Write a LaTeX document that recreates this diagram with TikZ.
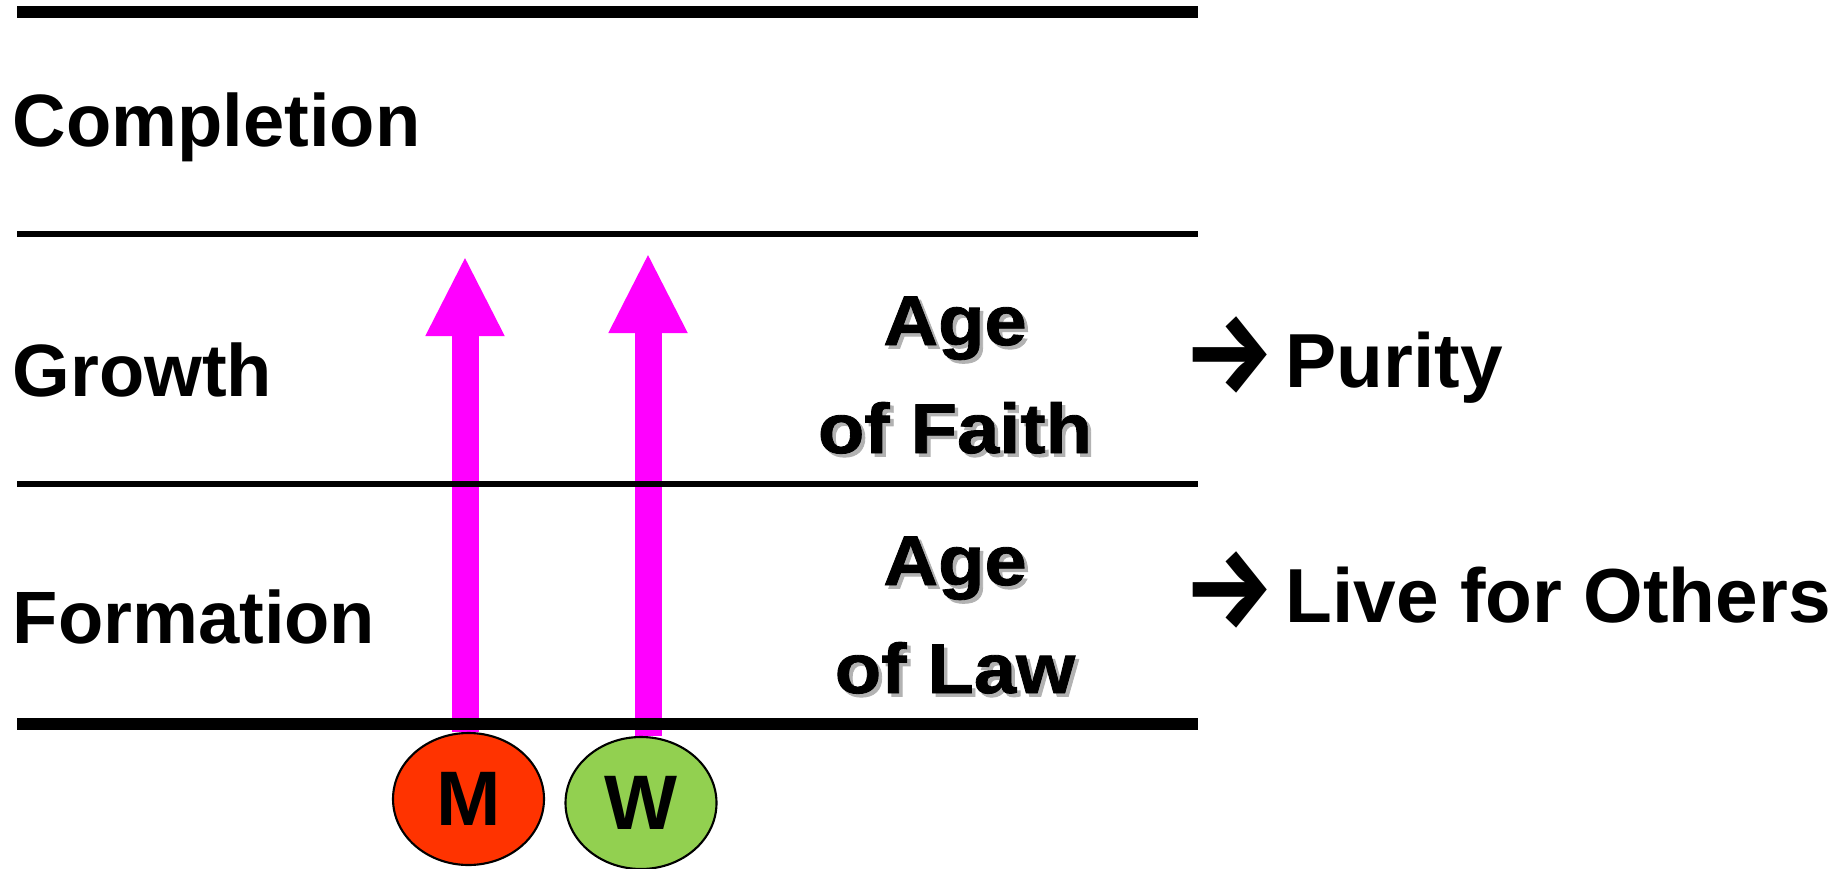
\documentclass[tikz,border=0pt]{standalone}
\usepackage{fontspec}
\setmainfont{Liberation Sans}
\newfontfamily\agefont[FakeStretch=1.08,FakeBold=1.2]{Liberation Sans}
\newfontfamily\arrowfont{Fira Sans}
\usetikzlibrary{arrows.meta,shapes.geometric,backgrounds}
\definecolor{mred}{HTML}{FF3300}
\definecolor{wgreen}{HTML}{92D050}
\definecolor{growpink}{HTML}{FF00FF}
\newcommand{\thenarrow}{\makebox[1.025cm][l]{\arrowfont\fontsize{29}{30}\selectfont\raisebox{-1.5pt}{\scalebox{1}[1.12]{→}}}}

\begin{document}
\begin{tikzpicture}[
    band/.style={line width=0.06cm},
    edge/.style={line width=0.12cm},
    stage/.style={anchor=base west, inner sep=0pt, font=\fontsize{21.1}{25}\selectfont\bfseries},
    age/.style={anchor=base, inner sep=0pt, font=\agefont\fontsize{20}{24}\selectfont\bfseries},
    ageshade/.style={age, text=black!30},
    virtue/.style={anchor=base west, inner sep=0pt, font=\fontsize{21.8}{26}\selectfont\bfseries},
    person/.style={ellipse, draw, line width=0.6pt, minimum width=1.51cm, minimum height=1.32cm, inner sep=0pt, font=\fontsize{22}{26}\selectfont\bfseries},
    growarrow/.style={growpink, line width=0.27cm, -{Triangle[length=0.8cm,width=0.73cm]}}
  ]
  \useasboundingbox (0,0) rectangle (18.45,8.68);

  % levels
  \draw[edge] (0.17,8.56) -- (11.98,8.56);
  \draw[band] (0.17,6.34) -- (11.98,6.34);
  \draw[band] (0.17,3.84) -- (11.98,3.84);
  \draw[edge] (0.17,1.44) -- (11.98,1.44);

  \node[stage] (completion) at (0.12,7.21) {Completion};
  \node[stage] (growth) at (0.12,4.72) {Growth};
  \node[stage] (formation) at (0.12,2.25) {Formation};

  % man and woman
  \node[person, fill=mred] (M) at (4.685,0.69) {M};
  \node[person, fill=wgreen] (W) at (6.41,0.65) {W};
  \coordinate (Mtip) at (4.65,6.12);
  \coordinate (Wtip) at (6.48,6.15);
  \begin{pgfonlayer}{background}
    \draw[growarrow] (Mtip |- M.north) -- (Mtip);
    \draw[growarrow] (Wtip |- W.north) -- (Wtip);
  \end{pgfonlayer}

  % ages
  \foreach \n/\t/\y in {faithA/Age/5.23, faithB/of Faith/4.15, lawA/Age/2.83, lawB/of Law/1.75} {
    \node[ageshade] (\n-sh) at (9.585,\y-0.035) {\t};
    \node[age] (\n) at (9.55,\y) {\t};
  }

  \node[virtue] (purity) at (11.825,4.81) {\thenarrow Purity};
  \node[virtue] (others) at (11.825,2.46) {\thenarrow Live for Others};
\end{tikzpicture}
\end{document}
